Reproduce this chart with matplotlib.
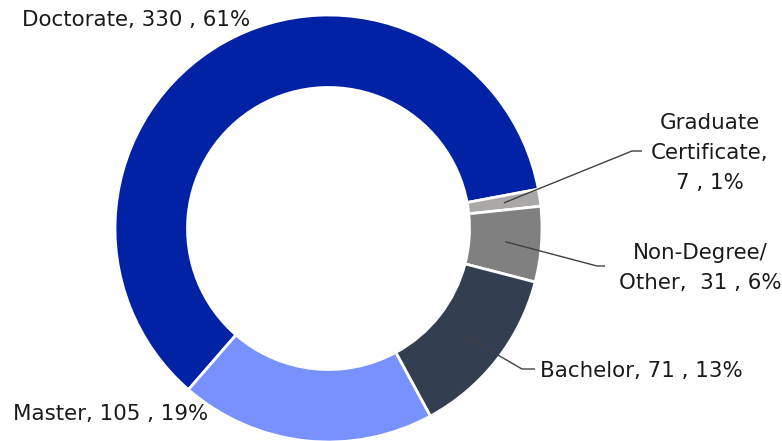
import matplotlib.pyplot as plt
import numpy as np

categories = ["Doctorate", "Graduate Certificate", "Non-Degree/Other", "Bachelor", "Master"]
label_names = ["Doctorate", "Graduate\nCertificate,\n", "Non-Degree/\nOther, ", "Bachelor", "Master"]
counts = [330, 7, 31, 71, 105]
colors = ["#0222A6", "#ABA8A8", "#808080", "#333F50", "#7891FE"]

W, H = 782, 441
CX, CY = 328.5, H - 228.5
R_OUT, R_IN = 213.5, 141.0
START = 229.0

# label layout in pixel coords (y from top): (x, y, ha, leader elbow, leader end)
layout = {
    "Doctorate": (136, 20, "center", None, None),
    "Graduate Certificate": (710, 153, "center", (632, 151), (642, 151)),
    "Non-Degree/Other": (700, 268, "center", (597, 266), (605, 266)),
    "Bachelor": (540, 371, "left", (522, 369), (535, 369)),
    "Master": (111, 414, "center", None, None),
}

fig = plt.figure(figsize=(W / 100, H / 100), dpi=100)
ax = fig.add_axes([0, 0, 1, 1])

wedges, _ = ax.pie(counts, colors=colors, startangle=START, counterclock=False,
                   radius=R_OUT, center=(CX, CY),
                   wedgeprops=dict(width=R_OUT - R_IN, edgecolor="white", linewidth=2.0))
ax.set_xlim(0, W)
ax.set_ylim(0, H)
ax.set_aspect("equal")
ax.axis("off")

total = sum(counts)
r_mid = (R_OUT + R_IN) / 2
for cat, name, n, w in zip(categories, label_names, counts, wedges):
    pct = round(100 * n / total)
    if name.endswith("\n"):
        text = f"{name}{n} , {pct}%"
    elif name.endswith(" "):
        text = f"{name} {n} , {pct}%"
    else:
        text = f"{name}, {n} , {pct}%"
    x, y, ha, elbow, end = layout[cat]
    ax.text(x, H - y, text, ha=ha, va="center", multialignment="center",
            fontsize=15.4, color="#1a1a1a", linespacing=1.6)
    if elbow is not None:
        th = np.deg2rad((w.theta1 + w.theta2) / 2)
        sx, sy = CX + r_mid * np.cos(th), CY + r_mid * np.sin(th)
        ax.plot([sx, elbow[0], end[0]], [sy, H - elbow[1], H - end[1]],
                color="#404040", linewidth=1.0, solid_capstyle="butt")

fig.savefig("out.png", dpi=100)
plt.close(fig)
